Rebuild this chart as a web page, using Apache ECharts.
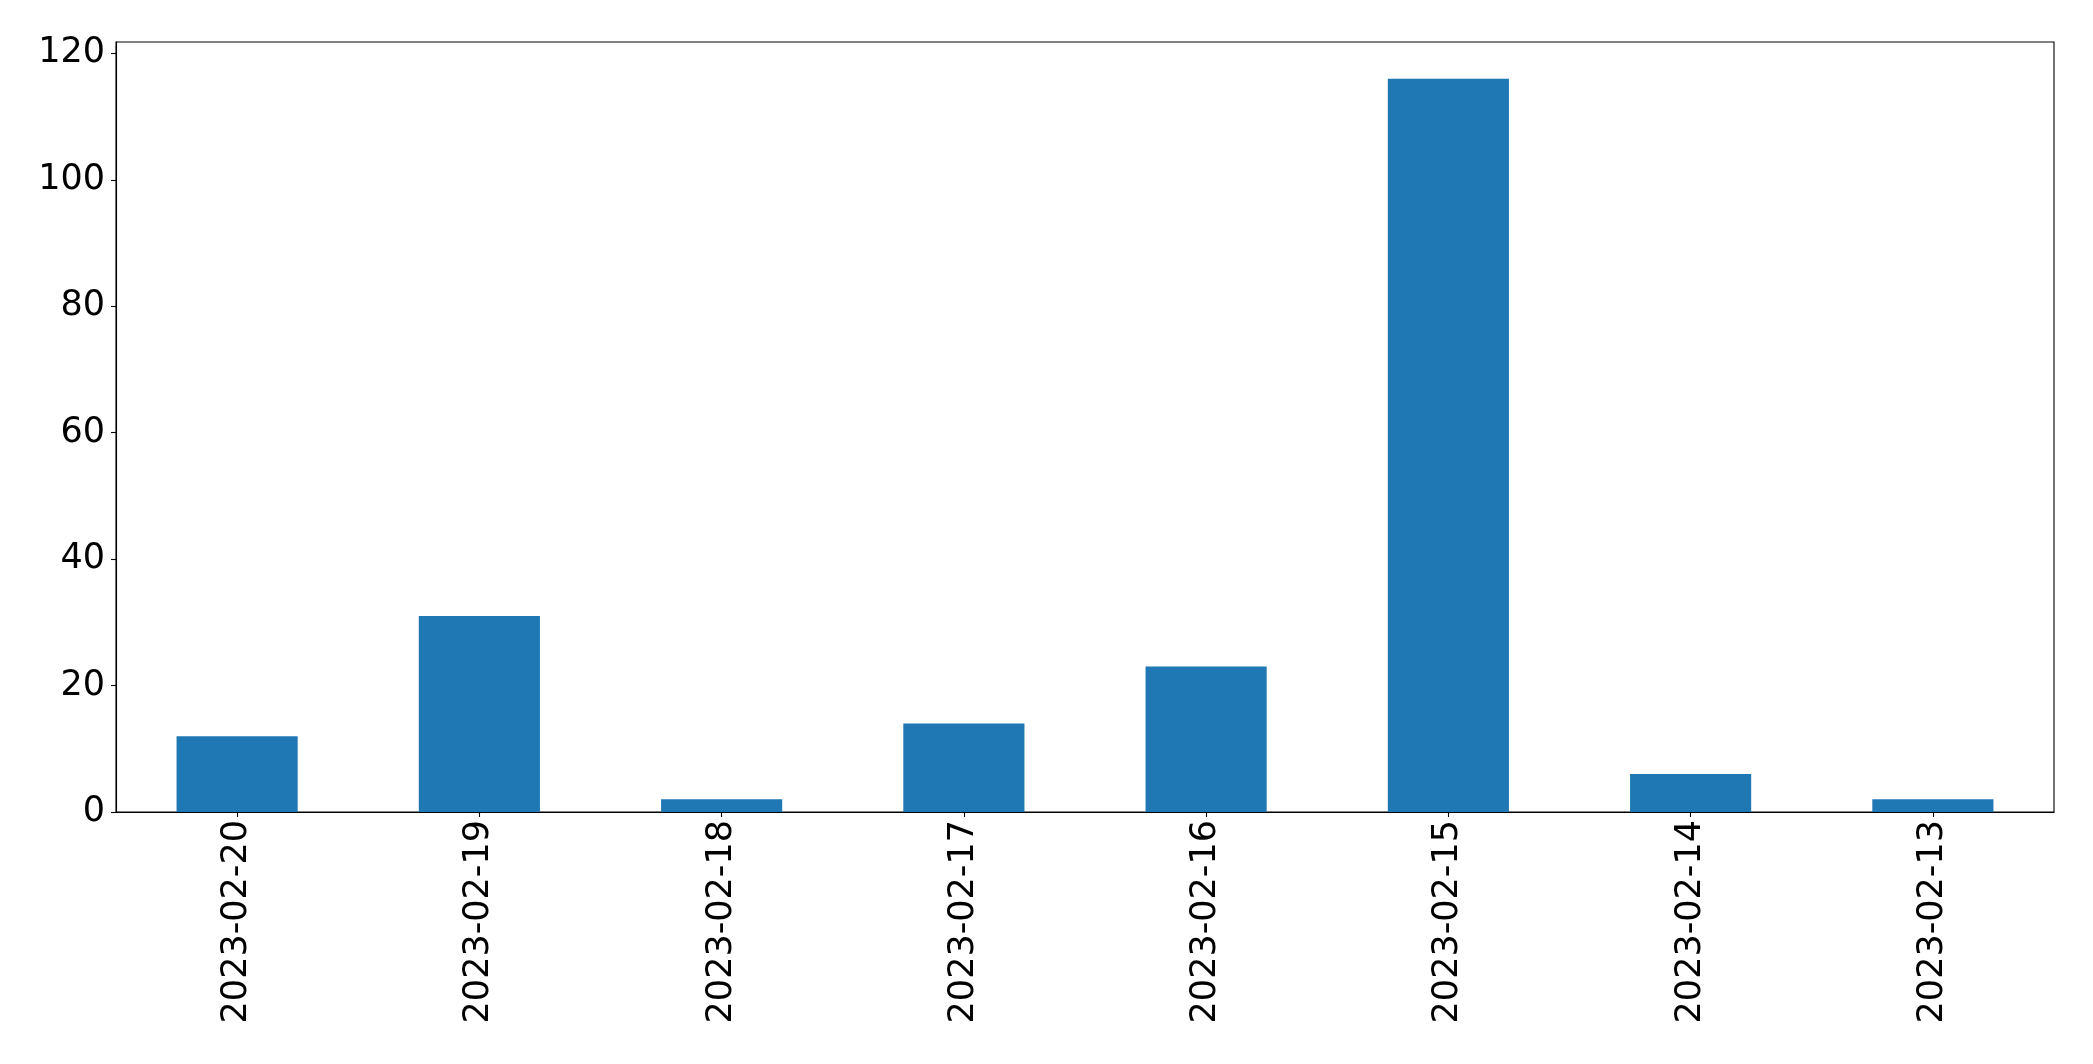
<!DOCTYPE html>
<html>
<head>
<meta charset="utf-8">
<script src="https://cdn.jsdelivr.net/npm/echarts@6/dist/echarts.min.js"></script>
<style>
html,body{margin:0;padding:0;background:#fff;}
#chart{width:2093px;height:1064px;}
</style>
</head>
<body>
<div id="chart"></div>
<script>
const categories = ['2023-02-20','2023-02-19','2023-02-18','2023-02-17','2023-02-16','2023-02-15','2023-02-14','2023-02-13'];
const counts = [12, 31, 2, 14, 23, 116, 6, 2];
const yTicks = [0, 20, 40, 60, 80, 100, 120];
const yMax = 121.8;

const chart = echarts.init(document.getElementById('chart'), null, {renderer: 'canvas'});
const fontFamily = 'DejaVu Sans';
chart.setOption({
  animation: false,
  backgroundColor: '#ffffff',
  grid: {
    left: 116, right: 39, top: 42, bottom: 252,
    show: true, borderColor: '#000000', borderWidth: 1.1, backgroundColor: 'transparent'
  },
  xAxis: {
    type: 'category',
    data: categories,
    boundaryGap: true,
    axisLine: {show: true, lineStyle: {color: '#000', width: 1.1}},
    axisTick: {show: true, alignWithLabel: true, length: 5, lineStyle: {color: '#000', width: 1.1}},
    axisLabel: {
      rotate: 90, interval: 0, margin: 8,
      color: '#000', fontSize: 35, fontFamily: fontFamily
    },
    splitLine: {show: false}
  },
  yAxis: {
    type: 'value',
    min: 0, max: yMax, interval: 20,
    axisLine: {show: true, lineStyle: {color: '#000', width: 1.1}},
    axisTick: {show: true, length: 5, lineStyle: {color: '#000', width: 1.1}, customValues: yTicks},
    axisLabel: {
      margin: 11, color: '#000', fontSize: 35, fontFamily: fontFamily,
      customValues: yTicks
    },
    splitLine: {show: false}
  },
  series: [{
    type: 'bar',
    data: counts,
    barWidth: '50%',
    itemStyle: {color: '#1f77b4'}
  }]
});
</script>
</body>
</html>
